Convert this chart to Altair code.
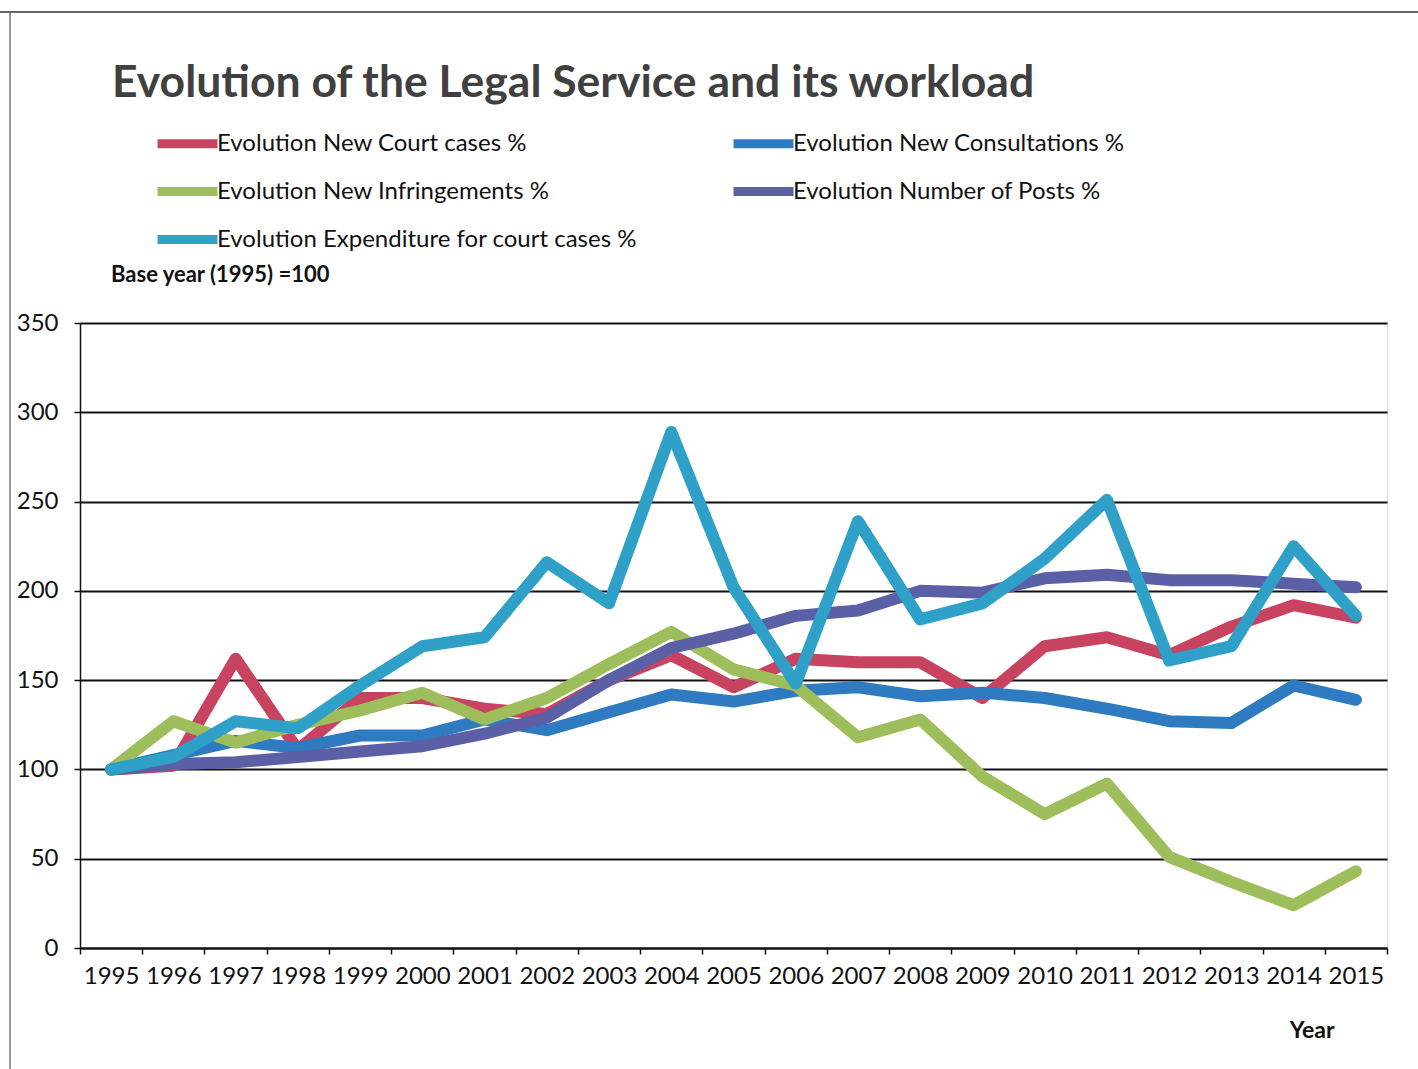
import altair as alt
import pandas as pd

years = ["1995", "1996", "1997", "1998", "1999", "2000", "2001", "2002", "2003", "2004",
         "2005", "2006", "2007", "2008", "2009", "2010", "2011", "2012", "2013", "2014", "2015"]

series_names = [
    "Evolution New Court cases %",
    "Evolution New Consultations %",
    "Evolution New Infringements %",
    "Evolution Number of Posts %",
    "Evolution Expenditure for court cases %",
]
series_colors = ["#C8435F", "#2F7BC1", "#9DBE5A", "#5B5FA5", "#2FA0C8"]
# legend fills column by column: left column first, then right column
legend_order = [0, 2, 4, 1, 3]

court_cases = [100, 102, 162, 111, 140, 140, 134, 131, 150, 164, 146, 162, 160, 160, 140, 169, 174, 164, 180, 192, 185]
consultations = [100, 108, 116, 112, 119, 119, 128, 122, 132, 142, 138, 144, 146, 141, 143, 140, 134, 127, 126, 147, 139]
infringements = [100, 127, 115, 125, 133, 143, 128, 140, 159, 177, 156, 147, 118, 128, 96, 75, 92, 51, 37, 24, 43]
posts = [100, 103, 104, 107, 110, 113, 120, 129, 150, 168, 176, 186, 189, 200, 199, 207, 209, 206, 206, 204, 202]
expenditure = [100, 107, 127, 123, 147, 169, 174, 216, 193, 289, 202, 148, 239, 184, 193, 218, 251, 161, 169, 225, 186]

title_text = "Evolution of the Legal Service and its workload"
base_text = "Base year (1995) =100"
x_title = "Year"
y_ticks = [0, 50, 100, 150, 200, 250, 300, 350]

rows = []
for name, vals in zip(series_names, [court_cases, consultations, infringements, posts, expenditure]):
    for y, v in zip(years, vals):
        rows.append({"Year": y, "Series": name, "Value": v})
df = pd.DataFrame(rows)

legend_domain = [series_names[i] for i in legend_order]
legend_range = [series_colors[i] for i in legend_order]

FONT = "Lato"

lines = alt.Chart(df).mark_line(
    strokeWidth=12, strokeCap="round", strokeJoin="round"
).encode(
    x=alt.X(
        "Year:O",
        sort=years,
        scale=alt.Scale(paddingInner=0, paddingOuter=0),
        axis=alt.Axis(
            title=x_title, labelAngle=0, tickBand="extent", tickSize=6, tickColor="#111",
            tickWidth=1.5, domainColor="#111", domainWidth=2, labelFontSize=24,
            labelFont=FONT, labelColor="#111", labelPadding=10,
            titleFont=FONT, titleFontSize=23, titleFontWeight="bold", titleColor="#111",
            titleAlign="right", titleBaseline="middle", titleX=1254, titleY=82,
        ),
    ),
    y=alt.Y(
        "Value:Q",
        scale=alt.Scale(domain=[0, 350], nice=False, zero=True),
        axis=alt.Axis(
            title=None, values=y_ticks, tickSize=6, tickColor="#111", tickWidth=1.5,
            domainColor="#111", domainWidth=1.5, gridColor="#111", gridWidth=2,
            labelFontSize=24, labelFont=FONT, labelColor="#111", labelPadding=16,
        ),
    ),
    color=alt.Color(
        "Series:N",
        scale=alt.Scale(domain=legend_domain, range=legend_range),
        legend=alt.Legend(
            title=None, orient="none", legendX=68, legendY=-209, columns=2,
            columnPadding=78, rowPadding=0, symbolType="M-1.2,0L1.2,0", symbolSize=2490,
            symbolOffset=10, symbolStrokeWidth=9, labelFont=FONT, labelFontSize=24,
            labelColor="#111", labelOffset=0, labelLimit=600,
        ),
    ),
    detail="Series:N",
)

base = alt.Chart(pd.DataFrame({"t": [base_text]})).mark_text(
    font=FONT, fontSize=22, fontWeight="bold", color="#111", align="left", baseline="middle"
).encode(text="t:N", x=alt.value(31), y=alt.value(-48))

frame_left = alt.Chart(pd.DataFrame({"k": [0]})).mark_rule(color="#999", strokeWidth=2).encode(
    x=alt.value(-70), y=alt.value(-311), y2=alt.value(746)
)
frame_top = alt.Chart(pd.DataFrame({"k": [0]})).mark_rule(color="#666", strokeWidth=2).encode(
    x=alt.value(-80), x2=alt.value(1338), y=alt.value(-311)
)

chart = alt.layer(frame_left, frame_top, lines, base).properties(
    width=1307, height=625,
    autosize=alt.AutoSizeParams(type="none"),
    padding={"left": 80, "top": 323, "right": 31, "bottom": 121},
    title=alt.TitleParams(
        text=title_text, anchor="start", frame="group", dx=32, offset=-130,
        font=FONT, fontSize=44.5, fontWeight="bold", color="#404040", baseline="alphabetic",
    ),
).configure_view(stroke=None).configure(background="white")

chart.save("out.html", embed_options={"renderer": "svg", "actions": False})
